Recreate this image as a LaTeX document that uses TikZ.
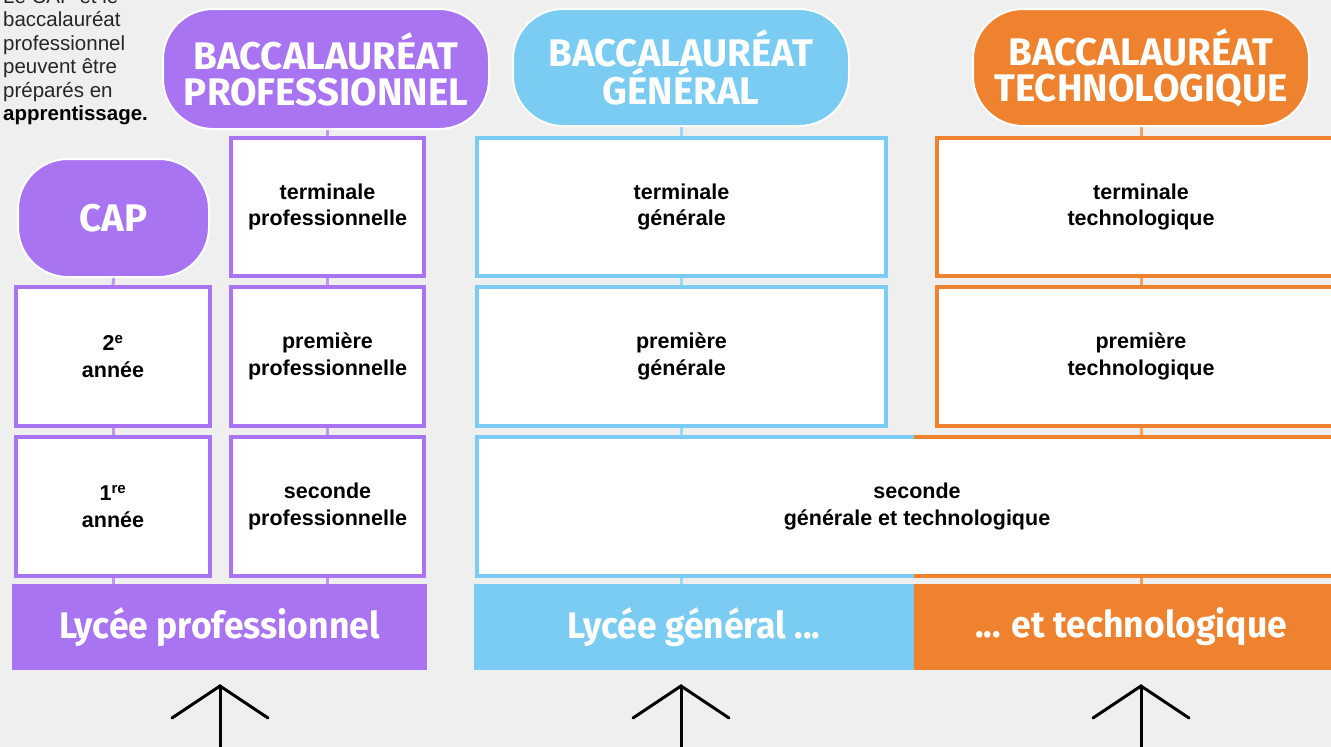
\documentclass[tikz,border=0pt]{standalone}
\usepackage{fontspec}
\setmainfont{Liberation Sans}
\newfontfamily\headfont{Fira Sans}
\usetikzlibrary{calc}
\definecolor{bgc}{HTML}{EFEFEF}
\definecolor{vio}{HTML}{A974F1}
\definecolor{sky}{HTML}{7ACCF2}
\definecolor{ora}{HTML}{EE822F}
\pgfdeclarelayer{back}
\pgfdeclarelayer{links}
\pgfsetlayers{back,links,main}
\tikzset{
  yearbox/.style={draw=#1, fill=white, line width=4pt, inner sep=0pt, outer sep=0pt,
    align=center, text=black, font=\bfseries\fontsize{21.5}{26.5}\selectfont},
  sz/.style 2 args={minimum width=#1, minimum height=#2},
  pill/.style={fill=#1, draw=white, line width=2pt, rounded corners=50pt, inner sep=0pt,
    outer sep=0pt, align=center, text=white, font=\headfont\bfseries\fontsize{38.5}{36}\selectfont},
  bar/.style={fill=#1, draw=none, inner sep=0pt, outer sep=0pt, text=white,
    minimum height=86pt, font=\headfont\bfseries\fontsize{37}{37}\selectfont},
  link/.style={line width=3pt, draw=#1!75!white},
  upar/.style={line width=3pt, draw=black, line cap=round, line join=miter},
}
\begin{document}
\begin{tikzpicture}[x=1pt,y=-1pt]
\useasboundingbox (0,0) rectangle (1331,747);
\begin{pgfonlayer}{back}
\fill[bgc] (0,0) rectangle (1331,747);
\end{pgfonlayer}

% note
\node[anchor=north west, inner sep=0pt, align=left, text=black!85,
  font=\fontsize{20.5}{23.5}\selectfont] (note) at (3,-12)
  {Le CAP et le\\baccalauréat\\professionnel\\peuvent être\\préparés en\\\textbf{\color{black}apprentissage.}};

% headers
\node[pill=vio, sz={326pt}{120pt}] (hpro) at (326,69) {BACCALAURÉAT\\PROFESSIONNEL};
\node[pill=sky, sz={336pt}{117pt}] (hgen) at (681,67.5) {BACCALAURÉAT\\GÉNÉRAL};
\node[pill=ora, sz={336pt}{117pt}] (htec) at (1141,67.5) {BACCALAURÉAT\\TECHNOLOGIQUE};
\node[pill=vio, sz={191pt}{118pt}] (cap) at (113.5,218) {CAP};

% CAP column
\node[yearbox=vio, sz={194pt}{139pt}] (c2) at (113,356.5) {2\textsuperscript{e}\\année};
\node[yearbox=vio, sz={194pt}{139pt}] (c1) at (113,506.5) {1\textsuperscript{re}\\année};

% professional column
\node[yearbox=vio, sz={193pt}{138pt}] (tpro) at (327.5,207) {terminale\\professionnelle};
\node[yearbox=vio, sz={193pt}{139pt}] (ppro) at (327.5,356.5) {première\\professionnelle};
\node[yearbox=vio, sz={193pt}{139pt}] (spro) at (327.5,506.5) {seconde\\professionnelle};

% general column
\node[yearbox=sky, sz={409pt}{138pt}] (tgen) at (681.5,207) {terminale\\générale};
\node[yearbox=sky, sz={409pt}{139pt}] (pgen) at (681.5,356.5) {première\\générale};

% technological column
\node[yearbox=ora, sz={408pt}{138pt}] (ttec) at (1141,207) {terminale\\technologique};
\node[yearbox=ora, sz={408pt}{139pt}] (ptec) at (1141,356.5) {première\\technologique};

% shared seconde
\node[yearbox=sky, sz={880pt}{139pt}] (sgt) at (917,506.5) {seconde\\générale et technologique};

% bars
\node[bar=vio, minimum width=415pt] (blp) at (219.5,627) {\scalebox{0.96}[1]{Lycée professionnel}};
\node[bar=sky, minimum width=440pt] (blg) at (694,627) {\scalebox{0.96}[1]{Lycée général ...}};
\node[bar=ora, minimum width=434pt] (blt) at (1131,627) {\scalebox{0.96}[1]{... et technologique}};

% orange part of the shared seconde border
\draw[ora, line width=4pt] (sgt.north -| blt.west) -- (sgt.north east);
\draw[ora, line width=4pt] (sgt.south -| blt.west) -- (sgt.south east);

% links
\begin{pgfonlayer}{links}
\draw[link=vio] (cap.south) -- (c2.north);
\draw[link=vio] (c2.south) -- (c1.north);
\draw[link=vio] (c1.south) -- (c1.south |- blp.north);
\draw[link=vio] (tpro.north) -- (tpro.north |- hpro.south);
\draw[link=vio] (tpro.south) -- (ppro.north);
\draw[link=vio] (ppro.south) -- (spro.north);
\draw[link=vio] (spro.south) -- (spro.south |- blp.north);
\draw[link=sky] (tgen.north) -- (tgen.north |- hgen.south);
\draw[link=sky] (tgen.south) -- (pgen.north);
\draw[link=sky] (pgen.south) -- (pgen.south |- sgt.north);
\draw[link=sky] (pgen.south |- sgt.south) -- (pgen.south |- blg.north);
\draw[link=ora] (ttec.north) -- (ttec.north |- htec.south);
\draw[link=ora] (ttec.south) -- (ptec.north);
\draw[link=ora] (ptec.south) -- (ptec.south |- sgt.north);
\draw[link=ora] (ptec.south |- sgt.south) -- (ptec.south |- blt.north);
\end{pgfonlayer}

% arrows
\coordinate (a1) at (220,760); \coordinate (t1) at (220,686);
\coordinate (a2) at (681,760); \coordinate (t2) at (681,686);
\coordinate (a3) at (1141,760); \coordinate (t3) at (1141,686);
\draw[upar] (a1) -- (t1);
\draw[upar] ($(t1)+(-48,32)$) -- (t1) -- ($(t1)+(48,32)$);
\draw[upar] (a2) -- (t2);
\draw[upar] ($(t2)+(-48,32)$) -- (t2) -- ($(t2)+(48,32)$);
\draw[upar] (a3) -- (t3);
\draw[upar] ($(t3)+(-48,32)$) -- (t3) -- ($(t3)+(48,32)$);
\end{tikzpicture}
\end{document}
